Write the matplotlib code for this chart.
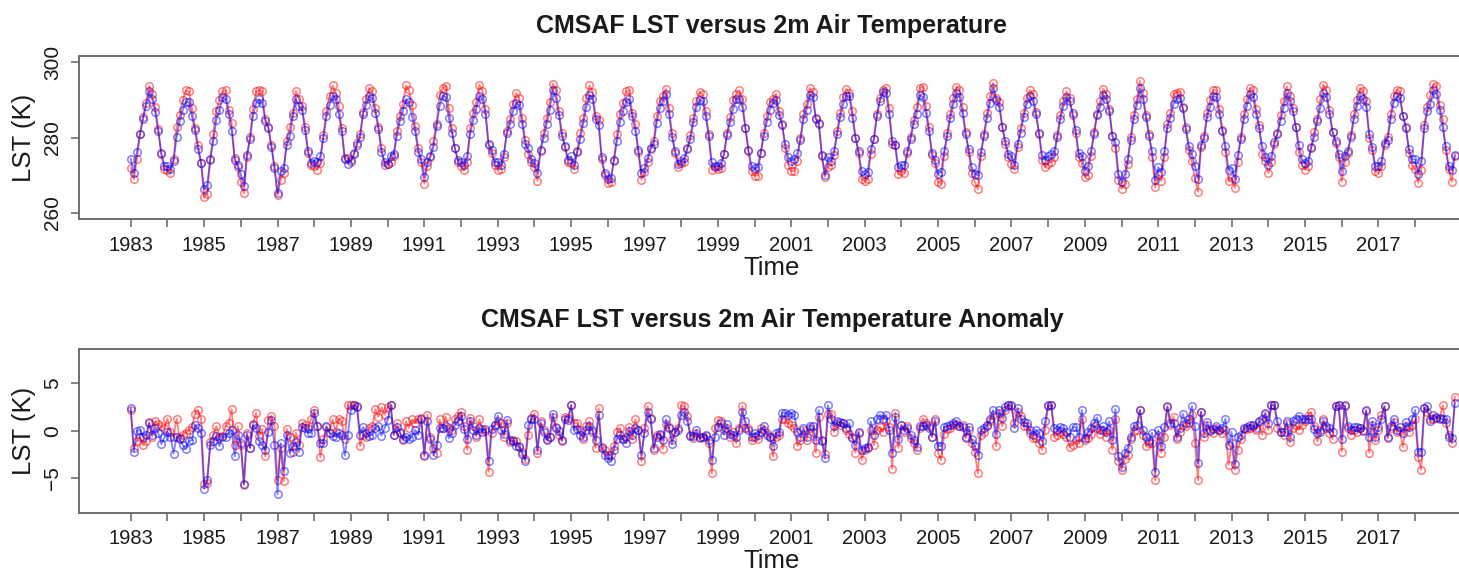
import matplotlib.pyplot as plt
import numpy as np

plt.rcParams["font.family"] = ["Liberation Sans", "DejaVu Sans"]

# monthly values, one row per year starting 1983 (last row = Jan/Feb 2019)
lst_k = [
    [272.0, 268.9, 274.2, 280.8, 285.4, 289.2, 293.7, 291.5, 288.0, 282.3, 275.6, 271.6],
    [271.3, 270.6, 274.3, 282.8, 285.9, 290.0, 292.5, 292.3, 287.8, 282.6, 277.9, 273.3],
    [264.1, 265.1, 274.0, 281.0, 287.1, 290.0, 292.2, 292.5, 287.3, 283.8, 274.6, 272.1],
    [268.3, 265.2, 274.8, 280.2, 287.6, 292.3, 292.5, 292.2, 284.8, 282.7, 277.9, 272.4],
    [264.7, 268.8, 270.6, 279.1, 282.7, 286.4, 292.4, 290.2, 288.4, 282.9, 275.9, 272.7],
    [272.4, 271.5, 273.3, 280.6, 287.1, 290.9, 293.8, 291.8, 288.4, 282.5, 274.5, 274.5],
    [273.5, 275.8, 278.6, 280.8, 286.8, 290.2, 293.1, 292.2, 287.8, 282.9, 277.2, 272.8],
    [273.0, 273.5, 275.1, 281.8, 285.8, 289.0, 293.8, 292.5, 288.7, 283.1, 277.2, 273.4],
    [267.8, 272.5, 274.9, 279.2, 283.7, 291.2, 293.1, 293.7, 287.8, 282.4, 277.2, 273.6],
    [272.5, 271.3, 273.5, 282.4, 286.5, 289.4, 294.0, 292.4, 287.5, 278.0, 275.8, 272.6],
    [271.5, 271.6, 274.9, 281.8, 284.8, 289.0, 291.7, 290.6, 285.3, 279.3, 275.6, 273.4],
    [272.3, 268.5, 276.5, 281.1, 285.1, 289.4, 294.3, 292.6, 287.1, 281.2, 277.5, 273.4],
    [273.2, 271.6, 276.3, 281.1, 285.1, 290.5, 293.8, 292.1, 285.7, 284.7, 274.3, 270.0],
    [268.0, 268.3, 273.9, 280.9, 286.3, 289.1, 292.2, 292.6, 286.6, 283.5, 276.1, 268.8],
    [270.8, 273.4, 276.9, 279.0, 285.6, 289.6, 290.9, 292.9, 287.9, 281.3, 275.9, 272.3],
    [273.2, 273.4, 277.1, 280.6, 285.2, 289.8, 292.1, 291.5, 287.0, 281.0, 271.5, 272.3],
    [271.6, 271.8, 275.6, 281.3, 285.4, 289.9, 291.5, 292.5, 290.1, 282.6, 276.3, 271.0],
    [269.9, 269.9, 275.8, 281.1, 285.8, 289.4, 290.1, 291.6, 287.1, 283.6, 277.2, 272.8],
    [271.1, 271.1, 273.9, 280.0, 286.1, 289.0, 293.1, 292.1, 285.2, 283.8, 275.0, 269.6],
    [272.3, 272.6, 275.4, 281.8, 286.6, 290.8, 292.9, 291.9, 286.9, 280.0, 275.8, 268.9],
    [268.5, 269.0, 275.6, 279.5, 286.1, 290.4, 292.7, 293.2, 287.9, 278.3, 277.9, 270.2],
    [271.1, 270.7, 276.0, 280.2, 284.7, 288.0, 293.1, 293.5, 288.3, 282.8, 275.4, 273.2],
    [268.2, 267.7, 275.2, 281.2, 286.3, 290.6, 293.5, 292.7, 288.1, 281.5, 276.1, 270.7],
    [268.3, 266.3, 275.1, 280.9, 286.5, 291.0, 294.5, 290.6, 289.4, 282.8, 278.2, 274.7],
    [273.1, 271.6, 277.5, 282.6, 286.5, 290.5, 292.6, 291.4, 286.7, 281.0, 274.0, 272.1],
    [273.1, 273.5, 274.9, 280.6, 285.9, 289.7, 292.2, 290.5, 286.0, 281.3, 274.7, 273.3],
    [269.5, 270.0, 275.2, 281.5, 286.3, 289.7, 292.9, 291.6, 287.6, 280.3, 277.3, 268.8],
    [266.4, 267.8, 273.0, 280.1, 286.0, 290.1, 295.0, 291.8, 285.9, 281.0, 274.7, 266.8],
    [270.1, 268.5, 274.9, 283.5, 286.6, 291.5, 291.9, 292.1, 288.1, 282.8, 276.8, 273.7],
    [269.2, 265.6, 277.5, 280.3, 286.6, 290.0, 292.6, 292.5, 287.6, 282.1, 276.1, 268.4],
    [269.2, 266.7, 273.5, 280.1, 286.2, 290.2, 293.1, 292.7, 287.6, 283.2, 275.6, 273.8],
    [270.6, 273.5, 278.2, 281.3, 285.9, 289.6, 293.6, 291.0, 287.8, 282.9, 276.1, 272.6],
    [271.5, 272.4, 277.5, 281.5, 284.9, 290.1, 294.0, 292.5, 287.3, 281.4, 278.6, 274.7],
    [268.3, 273.4, 275.8, 280.6, 286.1, 289.9, 293.1, 292.3, 289.6, 280.0, 276.6, 271.0],
    [270.6, 272.5, 278.1, 280.2, 286.3, 290.9, 292.7, 292.2, 285.8, 282.8, 275.9, 272.6],
    [271.7, 268.0, 271.4, 283.4, 288.0, 291.2, 294.1, 293.7, 288.7, 285.0, 276.8, 271.6],
    [268.3, 275.0],
]

t2m_k = [
    [274.4, 270.5, 276.1, 280.8, 284.9, 288.4, 292.2, 290.2, 286.7, 281.6, 275.8, 272.5],
    [272.4, 271.7, 273.7, 280.2, 284.3, 287.3, 289.5, 289.3, 285.6, 282.0, 277.0, 273.3],
    [266.3, 267.4, 274.4, 279.1, 284.7, 287.3, 290.7, 290.2, 286.3, 281.8, 274.1, 272.8],
    [270.3, 267.2, 275.4, 279.5, 285.8, 289.1, 290.2, 289.1, 284.5, 282.5, 277.6, 271.9],
    [265.2, 271.0, 271.9, 277.9, 280.3, 285.6, 290.2, 288.4, 287.3, 282.0, 276.3, 273.3],
    [273.9, 273.5, 275.1, 279.9, 285.6, 288.7, 291.1, 290.2, 286.3, 281.6, 274.2, 273.1],
    [274.0, 275.5, 278.1, 280.2, 286.3, 288.7, 291.1, 290.4, 286.5, 282.3, 276.1, 273.5],
    [273.1, 275.2, 275.6, 280.4, 284.4, 287.1, 290.2, 289.3, 285.4, 281.6, 276.1, 274.2],
    [269.5, 273.5, 275.1, 277.4, 283.0, 288.3, 291.1, 290.7, 285.2, 281.3, 277.1, 274.0],
    [273.6, 272.7, 275.1, 281.0, 284.6, 287.6, 291.1, 290.1, 286.2, 278.3, 276.7, 273.6],
    [273.6, 272.6, 275.7, 281.1, 283.5, 286.9, 289.2, 288.5, 283.6, 278.3, 277.1, 274.2],
    [273.2, 270.5, 276.8, 279.9, 283.5, 287.3, 292.6, 290.5, 286.0, 280.5, 277.7, 274.1],
    [275.0, 272.6, 276.2, 279.6, 283.9, 288.1, 291.3, 290.3, 285.0, 283.2, 274.7, 270.5],
    [269.1, 269.3, 274.0, 279.1, 284.1, 287.1, 289.5, 290.2, 285.6, 281.8, 276.6, 270.5],
    [271.8, 274.5, 277.3, 278.2, 283.9, 287.7, 289.8, 291.4, 286.3, 280.1, 276.4, 273.1],
    [273.7, 274.5, 277.0, 279.5, 284.0, 288.1, 290.0, 289.6, 285.6, 280.5, 273.4, 272.4],
    [272.4, 273.3, 275.6, 280.7, 284.2, 287.6, 290.2, 290.3, 288.0, 282.5, 276.6, 272.4],
    [271.8, 272.1, 275.9, 280.5, 284.1, 287.4, 289.2, 290.0, 285.9, 283.4, 278.4, 274.7],
    [273.9, 274.2, 275.9, 279.4, 284.8, 287.4, 291.3, 290.7, 285.0, 283.7, 275.4, 270.1],
    [274.9, 273.8, 276.5, 281.0, 285.4, 288.8, 291.1, 291.0, 285.2, 280.0, 276.4, 271.0],
    [270.2, 270.8, 277.0, 279.6, 285.7, 289.7, 292.1, 291.9, 286.1, 279.2, 278.0, 272.1],
    [272.6, 272.6, 276.3, 279.6, 283.5, 286.3, 291.3, 290.7, 286.6, 281.8, 275.9, 274.0],
    [270.4, 270.9, 276.4, 280.5, 285.1, 288.8, 291.8, 290.7, 286.4, 280.9, 276.9, 272.1],
    [270.4, 270.0, 276.1, 280.3, 285.1, 289.2, 293.0, 289.9, 288.2, 282.9, 279.0, 275.7],
    [275.0, 272.8, 278.4, 281.3, 285.4, 288.8, 290.9, 289.8, 286.1, 281.3, 275.4, 274.0],
    [275.0, 275.5, 276.3, 280.1, 284.9, 288.3, 290.7, 289.6, 286.4, 281.9, 275.9, 275.2],
    [271.2, 272.4, 276.3, 280.8, 285.9, 288.1, 291.3, 290.1, 287.0, 280.5, 278.8, 270.3],
    [268.2, 270.2, 274.2, 279.4, 285.0, 288.6, 293.0, 290.3, 285.4, 280.4, 276.3, 268.7],
    [272.1, 270.9, 276.4, 282.6, 285.3, 288.8, 290.2, 290.5, 287.8, 282.3, 277.7, 275.6],
    [272.5, 269.1, 278.0, 279.8, 285.4, 288.1, 291.0, 290.7, 286.1, 281.8, 277.8, 271.5],
    [271.9, 269.0, 275.3, 279.6, 284.8, 288.4, 291.4, 290.8, 286.3, 282.5, 277.7, 274.9],
    [272.8, 275.2, 278.7, 281.0, 284.4, 287.9, 291.8, 289.6, 287.0, 282.8, 278.1, 274.2],
    [273.2, 273.8, 277.2, 280.2, 284.3, 287.9, 291.8, 290.7, 286.3, 281.4, 279.1, 275.7],
    [271.1, 275.2, 276.5, 280.1, 284.9, 288.4, 291.1, 290.2, 288.2, 280.9, 277.5, 272.4],
    [272.4, 273.7, 278.6, 279.4, 285.0, 289.2, 290.9, 290.6, 285.8, 282.4, 276.9, 274.2],
    [274.2, 270.3, 273.8, 282.4, 287.1, 289.0, 292.5, 291.6, 287.4, 282.7, 277.7, 272.4],
    [271.4, 275.4],
]

lst_anom = [
    [2.2, -1.8, -1.1, -0.6, -1.5, -1.1, 0.9, -0.6, 1.0, 0.7, 0.5, 0.3],
    [1.3, -0.1, -0.6, 1.3, -0.8, -0.4, -0.2, 0.1, 0.4, 1.8, 2.2, 1.3],
    [-5.6, -5.5, -1.2, -0.4, 0.5, -0.6, -0.5, 0.5, 0.8, 2.3, -1.5, 0.5],
    [-1.5, -5.7, -0.2, -1.8, 0.7, 1.9, -0.5, 0.2, -2.7, 1.1, 1.6, 0.5],
    [-5.2, -1.8, -5.3, 0.2, -0.7, -2.2, -0.2, -1.5, 0.8, 0.6, 0.3, 1.3],
    [2.2, 0.5, -2.8, -0.9, 0.4, -0.2, 1.2, -0.1, 1.3, 1.0, -0.9, 2.7],
    [2.7, 2.7, 2.6, -1.6, -0.4, -0.6, 0.3, 0.5, 2.3, 1.5, 2.5, 1.7],
    [2.5, 2.7, -0.4, 0.8, -0.2, -1.0, 1.0, 0.3, 1.2, 0.8, 1.2, 1.4],
    [-2.7, 1.7, -0.6, -1.8, -2.3, 1.2, 0.3, 1.5, 0.3, 0.1, 1.2, 1.6],
    [2.0, 0.5, -2.0, 1.4, 0.5, -0.6, 1.2, 0.2, 0.0, -4.3, -0.2, 0.6],
    [1.0, 0.8, -0.6, 0.8, -1.2, -1.0, -1.1, -1.6, -2.2, -3.0, -0.4, 1.4],
    [1.8, -2.3, 1.0, 0.1, -0.9, -0.6, 1.5, 0.4, -0.4, -1.1, 1.5, 1.4],
    [2.7, 0.8, 0.8, 0.1, -0.9, 0.5, 1.0, -0.1, -1.8, 2.4, -1.7, -2.0],
    [-2.5, -2.5, -1.6, -0.1, 0.3, -0.9, -0.6, 0.4, -0.9, 1.2, 0.1, -3.2],
    [0.3, 2.6, 1.4, -2.0, -0.4, -0.4, -1.9, 0.7, 0.4, -1.0, -0.1, 0.3],
    [2.7, 2.6, 1.6, -0.4, -0.8, -0.2, -0.7, -0.7, -0.5, -1.3, -4.5, 0.3],
    [1.1, 1.0, 0.1, 0.3, -0.6, -0.1, -1.3, 0.3, 2.6, 0.3, 0.3, -1.0],
    [-0.6, -0.9, 0.3, 0.1, -0.2, -0.6, -2.7, -0.6, -0.4, 1.3, 1.2, 0.8],
    [0.6, 0.3, -1.6, -1.0, 0.1, -1.0, 0.3, -0.1, -2.3, 1.5, -1.0, -2.4],
    [1.8, 1.8, -0.1, 0.8, 0.6, 0.8, 0.1, -0.3, -0.6, -2.3, -0.2, -3.1],
    [-2.0, -1.8, 0.1, -1.5, 0.1, 0.4, -0.1, 1.0, 0.4, -4.0, 1.9, -1.8],
    [0.6, -0.1, 0.5, -0.8, -1.3, -2.0, 0.3, 1.3, 0.8, 0.5, -0.6, 1.2],
    [-2.3, -3.1, -0.3, 0.2, 0.3, 0.6, 0.7, 0.5, 0.6, -0.8, 0.1, -1.3],
    [-2.2, -4.5, -0.4, -0.1, 0.5, 1.0, 1.7, -1.6, 1.9, 0.5, 2.2, 2.7],
    [2.6, 0.8, 2.0, 1.6, 0.5, 0.5, -0.2, -0.8, -0.8, -1.3, -2.0, 0.1],
    [2.6, 2.7, -0.6, -0.4, -0.1, -0.3, -0.6, -1.7, -1.5, -1.0, -1.3, 1.3],
    [-1.0, -0.8, -0.3, 0.5, 0.3, -0.3, 0.1, -0.6, 0.1, -2.0, 1.3, -3.2],
    [-4.1, -3.0, -2.5, -0.9, 0.0, 0.1, 2.2, -0.4, -1.6, -1.3, -1.3, -5.2],
    [-0.4, -2.3, -0.6, 2.5, 0.6, 1.5, -0.9, -0.1, 0.6, 0.5, 0.8, 1.7],
    [-1.3, -5.2, 2.0, -0.7, 0.6, 0.0, -0.2, 0.3, 0.1, -0.2, 0.1, -3.6],
    [-1.3, -4.1, -2.0, -0.9, 0.2, 0.2, 0.3, 0.5, 0.1, 0.9, -0.4, 1.8],
    [0.1, 2.7, 2.7, 0.3, -0.1, -0.4, 0.8, -1.2, 0.3, 0.6, 0.1, 0.6],
    [1.0, 1.6, 2.0, 0.5, -1.1, 0.1, 1.2, 0.3, -0.2, -0.9, 2.6, 2.7],
    [-2.2, 2.6, 0.3, -0.4, 0.1, -0.1, 0.3, 0.1, 2.1, -2.3, 0.6, -1.0],
    [0.1, 1.7, 2.6, -0.8, 0.3, 0.9, -0.1, 0.0, -1.7, 0.5, -0.1, 0.6],
    [1.2, -2.8, -4.1, 2.4, 2.0, 1.2, 1.3, 1.5, 1.2, 2.7, 0.8, -0.4],
    [-1.3, 3.6],
]

t2m_anom = [
    [2.4, -2.2, 0.0, 0.1, -0.6, -0.4, 0.8, -0.4, 0.3, -0.2, -1.4, -0.7],
    [-0.1, -0.6, -2.4, -0.6, -0.9, -1.5, -1.9, -1.1, -1.0, 0.6, 0.3, -0.2],
    [-6.1, -5.2, -1.5, -1.1, -0.5, -1.6, -0.6, -0.7, -0.2, 0.1, -2.7, -0.4],
    [-1.3, -5.6, -0.4, -1.8, 0.6, 0.3, -1.1, -1.5, -2.0, -0.1, 1.1, -1.5],
    [-6.7, -1.3, -4.2, -0.4, -2.3, -1.6, -1.2, -2.2, 0.4, 0.3, -0.2, -0.2],
    [1.9, 0.5, -1.3, -1.3, 0.5, -0.2, -0.5, -0.6, -0.2, -0.4, -2.6, -0.4],
    [2.2, 2.7, 2.5, -0.4, 0.4, -0.2, -0.5, -0.4, 0.3, 0.5, -0.5, 0.3],
    [1.1, 2.7, -0.4, 0.4, -0.1, -0.9, -0.6, -0.9, -0.6, 0.1, -0.4, 1.2],
    [-2.5, 1.0, -0.9, -2.6, -1.5, 0.3, 0.3, 0.5, -0.8, -0.2, 0.6, 1.0],
    [1.6, 0.2, -0.9, 1.0, 0.1, -0.4, 0.3, -0.1, 0.2, -3.2, 0.2, 0.6],
    [1.6, 0.1, -0.3, 1.1, -1.0, -1.1, -1.6, -1.7, -2.4, -3.2, 0.6, 1.2],
    [1.2, -2.0, 0.8, -0.1, -1.0, -0.7, 1.8, 0.3, 0.0, -1.0, 1.2, 1.1],
    [2.7, 0.1, 0.2, -0.4, -0.6, 0.1, 0.5, 0.1, -1.0, 1.7, -1.8, -2.5],
    [-2.9, -3.2, -2.0, -0.9, -0.4, -0.9, -1.3, 0.0, -0.4, 0.3, 0.1, -2.5],
    [-0.2, 2.0, 1.3, -1.8, -0.6, -0.3, -1.0, 1.2, 0.3, -1.4, -0.1, 0.1],
    [1.7, 2.0, 1.0, -0.5, -0.5, 0.1, -0.8, -0.6, -0.4, -1.0, -3.1, -0.6],
    [0.4, 0.8, -0.4, 0.7, -0.3, -0.4, -0.6, 0.1, 2.0, 1.0, 0.1, -0.6],
    [-0.2, -0.4, -0.1, 0.5, -0.4, -0.6, -1.6, -0.2, -0.1, 1.9, 1.9, 1.7],
    [1.9, 1.7, -0.1, -0.6, 0.3, -0.6, 0.5, 0.5, -1.0, 2.2, -1.1, -2.9],
    [2.7, 1.3, 0.5, 1.0, 0.9, 0.8, 0.3, 0.8, -0.8, -1.5, -0.1, -2.0],
    [-1.8, -1.7, 1.0, -0.4, 1.2, 1.7, 1.3, 1.7, 0.1, -2.3, 1.5, -0.9],
    [0.6, 0.1, 0.3, -0.4, -1.0, -1.7, 0.5, 0.5, 0.6, 0.3, -0.6, 1.0],
    [-1.6, -1.6, 0.4, 0.5, 0.6, 0.8, 1.0, 0.5, 0.4, -0.6, 0.4, -0.9],
    [-1.6, -2.5, 0.1, 0.3, 0.6, 1.2, 2.2, -0.3, 2.2, 1.4, 2.5, 2.7],
    [2.7, 0.3, 2.4, 1.3, 0.9, 0.8, 0.1, -0.4, 0.1, -0.2, -1.1, 1.0],
    [2.7, 2.7, 0.3, 0.1, 0.4, 0.3, -0.1, -0.6, 0.4, 0.4, -0.6, 2.2],
    [-0.8, -0.1, 0.3, 0.8, 1.4, 0.1, 0.5, -0.1, 1.0, -1.0, 2.3, -2.7],
    [-3.8, -2.3, -1.8, -0.6, 0.5, 0.6, 2.2, 0.1, -0.6, -1.1, -0.2, -4.3],
    [0.1, -1.6, 0.4, 2.6, 0.8, 0.8, -0.6, 0.3, 1.8, 0.8, 1.2, 2.6],
    [0.5, -3.4, 2.0, -0.2, 0.9, 0.1, 0.2, 0.5, 0.1, 0.3, 1.3, -1.5],
    [-0.1, -3.5, -0.7, -0.4, 0.3, 0.4, 0.6, 0.6, 0.3, 1.0, 1.2, 1.9],
    [0.8, 2.7, 2.7, 1.0, -0.1, -0.1, 1.0, -0.6, 1.0, 1.3, 1.6, 1.2],
    [1.2, 1.3, 1.2, 0.2, -0.2, -0.1, 1.0, 0.5, 0.3, -0.1, 2.6, 2.7],
    [-0.9, 2.7, 0.5, 0.1, 0.4, 0.4, 0.3, 0.0, 2.2, -0.6, 1.0, -0.6],
    [0.4, 1.2, 2.6, -0.6, 0.5, 1.2, 0.1, 0.4, -0.2, 0.9, 0.4, 1.2],
    [2.2, -2.2, -2.2, 2.4, 2.6, 1.0, 1.7, 1.4, 1.4, 1.2, 1.2, -0.6],
    [-0.8, 2.9],
]

tick_years = list(range(1983, 2019))
tick_labels = [str(y) if (y - 1983) % 2 == 0 else "" for y in tick_years]


def flatten(rows):
    return np.concatenate([np.asarray(r, dtype=float) for r in rows])


def months(values):
    return 1983 + np.arange(len(values)) / 12.0


W, H = 1459, 571
fig = plt.figure(figsize=(W / 100, H / 100), dpi=100)

TXT = "#1a1a1a"
EDGE = "#6e6e6e"
RED = (1.0, 0.0, 0.0, 0.5)
BLUE = (0.0, 0.0, 1.0, 0.5)


def px(x, y):
    return x / W, 1 - y / H


def style_axes(ax, yticks, ylabels):
    ax.set_xlim(1981.59, 2019.36)
    ax.set_xticks(tick_years)
    ax.set_xticklabels(tick_labels, fontsize=14.5, color=TXT)
    ax.set_yticks(yticks)
    ax.set_yticklabels(ylabels, fontsize=15, color=TXT, rotation=90, va="center")
    ax.tick_params(axis="both", length=6, width=1.2, color=EDGE, pad=6)
    for s in ax.spines.values():
        s.set_color(EDGE)
        s.set_linewidth(1.4)


def draw_pair(ax, red_rows, blue_rows):
    r = flatten(red_rows)
    b = flatten(blue_rows)
    for vals, col, z in ((r, RED, 2), (b, BLUE, 3)):
        ax.plot(months(vals), vals, color=col, lw=1.3, marker="o", ms=5.4,
                mfc="none", mec=col, mew=1.1, zorder=z)


left, right = 79, 1465
# top panel
ax1 = fig.add_axes([left / W, 1 - 219 / H, (right - left) / W, 163 / H])
draw_pair(ax1, lst_k, t2m_k)
ax1.set_ylim(258.4, 301.6)
style_axes(ax1, [260, 280, 300], ["260", "280", "300"])

# bottom panel
ax2 = fig.add_axes([left / W, 1 - 512.7 / H, (right - left) / W, 163.7 / H])
draw_pair(ax2, lst_anom, t2m_anom)
ax2.set_ylim(-8.64, 8.64)
style_axes(ax2, [-5, 0, 5], ["\u22125", "0", "5"])

cx = (left + right) / 2
fig.text(*px(cx, 26), "CMSAF LST versus 2m Air Temperature", ha="center", va="center",
         fontsize=18, fontweight="bold", color=TXT)
fig.text(*px(cx, 320), "CMSAF LST versus 2m Air Temperature Anomaly", ha="center",
         va="center", fontsize=18, fontweight="bold", color=TXT)
fig.text(*px(cx, 268), "Time", ha="center", va="center", fontsize=18.5, color=TXT)
fig.text(*px(cx, 561), "Time", ha="center", va="center", fontsize=18.5, color=TXT)
fig.text(*px(24, 137.5), "LST (K)", ha="center", va="center", rotation=90,
         fontsize=18.5, color=TXT)
fig.text(*px(24, 431), "LST (K)", ha="center", va="center", rotation=90,
         fontsize=18.5, color=TXT)

fig.savefig("out.png", dpi=100)
